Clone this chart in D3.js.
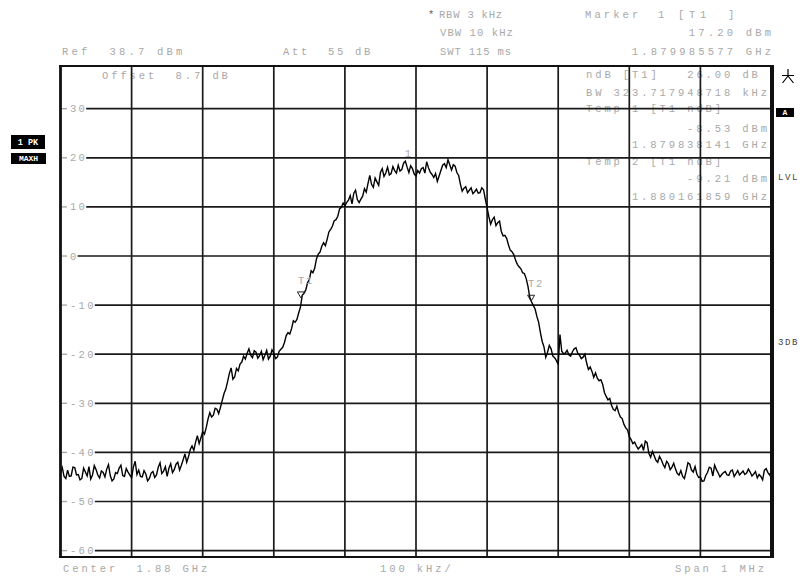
<!DOCTYPE html>
<html><head><meta charset="utf-8">
<script src="https://cdn.jsdelivr.net/npm/d3@7"></script>
<style>
body{margin:0;background:#fff}
svg{display:block}
text{font-family:"Liberation Mono","DejaVu Sans Mono",monospace;}
</style>
</head><body>
<svg id="c" width="802" height="576"></svg>
<script>
// ---- data ----
const spanKHz = 1000;
const sweepKHz = d3.range(-500, 500.1, 2.5);      // sweep points (offset from 1.88 GHz, kHz)
const levelDbm = [
 -44.2,-43.1,-44.9,-45.3,-43.6,-44.9,-44.8,-43.0,-43.1,-44.6,-44.5,-45.6,-45.3,-43.2,-44.0,-44.8,-42.9,-45.4,-44.6,-42.7,
 -43.5,-44.6,-45.2,-43.8,-44.1,-45.0,-43.4,-42.5,-44.7,-45.8,-45.4,-44.1,-44.3,-43.2,-42.6,-44.7,-44.9,-43.3,-44.0,-44.6,
 -45.1,-43.0,-41.8,-44.5,-43.6,-44.9,-45.0,-43.7,-44.4,-45.8,-45.3,-44.2,-43.9,-45.1,-44.6,-43.0,-42.1,-44.3,-43.8,-42.9,
 -44.9,-43.2,-42.3,-44.1,-43.5,-42.4,-42.0,-43.6,-42.6,-41.5,-40.3,-42.0,-40.9,-39.4,-38.7,-39.6,-37.9,-36.6,-38.2,-37.0,
 -35.8,-36.3,-34.9,-33.2,-31.9,-32.8,-32.4,-31.0,-31.2,-32.1,-30.8,-29.4,-28.0,-27.1,-25.6,-23.9,-22.8,-25.1,-24.6,-22.9,
 -23.4,-22.0,-21.6,-20.4,-21.0,-19.8,-18.9,-20.2,-20.7,-19.3,-19.6,-20.8,-20.3,-19.4,-21.1,-20.2,-19.2,-21.0,-20.4,-19.1,
 -19.8,-20.9,-20.6,-19.4,-19.0,-18.6,-17.6,-16.2,-15.6,-15.9,-14.8,-13.2,-13.5,-12.9,-11.6,-10.4,-8.0,-7.6,-6.9,-5.4,
 -4.8,-3.0,-3.4,-2.5,-0.6,0.4,0.8,2.0,2.7,2.1,3.4,4.9,5.4,6.1,7.2,7.4,8.1,9.6,9.9,10.8,
 10.2,10.9,11.4,12.3,10.6,12.8,13.4,11.5,10.9,11.6,12.2,13.7,13.0,14.8,16.4,14.6,14.0,15.9,15.1,14.4,
 17.0,17.8,16.2,16.9,18.1,16.5,16.8,18.2,17.4,16.9,18.5,17.3,17.6,18.9,19.3,18.1,17.0,18.4,17.8,16.7,
 16.3,17.4,16.9,17.8,18.0,16.9,19.2,18.0,17.1,16.6,16.0,16.8,15.2,16.3,17.4,18.5,18.8,18.0,19.6,18.6,
 17.5,18.6,18.3,17.0,16.4,14.6,13.2,13.8,14.1,12.9,13.4,13.9,12.7,13.1,13.6,12.8,12.9,13.9,13.5,11.6,
 9.8,8.0,6.5,7.4,7.9,6.2,6.8,7.1,5.0,4.1,4.2,3.6,2.3,1.2,0.9,0.3,-0.8,-1.7,-2.2,-2.6,
 -3.4,-3.6,-4.6,-6.2,-8.4,-9.3,-10.1,-10.8,-12.3,-13.5,-15.6,-17.4,-18.5,-20.6,-19.6,-18.2,-18.9,-20.4,-20.7,-21.3,
 -22.1,-16.0,-19.4,-19.9,-19.8,-19.2,-20.1,-20.4,-19.5,-18.9,-18.7,-19.8,-20.2,-20.9,-20.6,-20.0,-21.8,-23.1,-22.6,-23.5,
 -24.7,-23.8,-24.9,-25.4,-25.2,-26.1,-27.8,-28.6,-29.3,-29.0,-30.4,-31.2,-31.5,-30.6,-31.9,-32.8,-33.1,-34.3,-35.0,-35.4,
 -36.8,-37.4,-38.2,-37.9,-38.7,-39.3,-38.9,-38.4,-39.6,-37.7,-38.0,-40.2,-41.0,-39.8,-40.7,-41.6,-42.0,-40.8,-41.5,-42.4,
 -43.1,-41.8,-42.3,-43.5,-43.0,-42.2,-43.4,-44.3,-44.6,-43.7,-44.9,-45.3,-43.8,-42.1,-42.4,-43.6,-44.0,-42.9,-44.4,-45.1,
 -45.0,-45.9,-45.8,-44.7,-44.1,-43.0,-43.2,-44.8,-42.6,-43.5,-44.2,-45.0,-44.5,-44.1,-43.9,-44.6,-44.7,-43.8,-43.6,-44.9,
 -44.3,-43.7,-44.6,-44.2,-43.8,-44.5,-44.2,-43.4,-44.0,-44.8,-44.4,-43.9,-45.2,-44.5,-44.9,-45.6,-43.6,-43.3,-44.1,-44.6,-43.8
];
const refLevel = 38.7;
const rangeDb = 100;
const yTickValues = [30,20,10,0,-10,-20,-30,-40,-50,-60];
const xGridKHz = [-400,-300,-200,-100,0,100,200,300,400];
const markerNames = ["1","T1","T2"];
const markerKHz = [-14.423, -161.859, 161.859];
const markerDbm = [17.20, -8.53, -9.21];

// ---- scales ----
const svg = d3.select("#c");
const x = d3.scaleLinear().domain([-spanKHz/2, spanKHz/2]).range([60.5, 771.5]);
const y = d3.scaleLinear().domain([refLevel - rangeDb, refLevel]).range([557, 66]);

const GRAY = "#a8a8a8";
const FS = 10.5, ADV = FS*0.6;
function t(str, px, py, pitch=9.2, anchor="start", fill=GRAY, fs=FS) {
  const ls = pitch - fs*0.6;
  return svg.append("text").attr("x", anchor==="end" ? px + ls : px).attr("y", py)
    .attr("text-anchor", anchor).attr("font-size", fs).attr("letter-spacing", ls)
    .attr("fill", fill).style("white-space","pre").text(str);
}

// ---- header texts ----
t("*", 428, 18, 9, "start", "#666");
t("RBW 3 kHz", 439, 18, 7.1);
t("VBW 10 kHz", 440, 36, 7.4);
t("SWT 115 ms", 440, 54.5, 7.2);
t("Marker", 585, 18, 9.4);
t("1", 658, 18);
t("[T1", 678, 18, 11);
t("]", 728, 18);
t("17.20 dBm", 771, 36, 9.5, "end");
t("1.879985577 GHz", 771, 54.5, 9.5, "end");
t("Ref  38.7 dBm", 62, 54.5, 9.5);
t("Att  55 dB", 283, 54.5, 9.0);

// inside plot texts (drawn beneath grid)
t("Offset  8.7 dB", 102, 79);
t("ndB [T1]   26.00 dB", 586, 78);
t("BW 323.717948718 kHz", 586, 96);
t("Temp 1 [T1 ndB]", 586, 112);
t("-8.53 dBm", 767, 132, 9.2, "end");
t("1.879838141 GHz", 767, 148, 9.2, "end");
t("Temp 2 [T1 ndB]", 586, 165);
t("-9.21 dBm", 767, 182, 9.2, "end");
t("1.880161859 GHz", 767, 200, 9.2, "end");

// bottom
t("Center  1.88 GHz", 63, 572);
t("100 kHz/", 380, 572);
t("Span 1 MHz", 675, 572);

// ---- grid ----
const grid = svg.append("g").attr("stroke", "#1a1a1a").attr("stroke-width", 1.7);
grid.selectAll("line.v").data(xGridKHz).join("line")
  .attr("x1", d => x(d)).attr("x2", d => x(d)).attr("y1", y(refLevel)).attr("y2", y(refLevel - rangeDb));

const yl = svg.append("g");
yTickValues.forEach(v => {
  const lab = yl.append("text").attr("x", 70).attr("y", y(v) + 3.5).attr("font-size", FS)
    .attr("letter-spacing", 8.6 - ADV).attr("fill", GRAY).text(v);
  const w = lab.node().getComputedTextLength();
  yl.append("line").attr("x1", 62).attr("x2", 67).attr("y1", y(v)).attr("y2", y(v))
    .attr("stroke", GRAY).attr("stroke-width", 1.4);
  grid.append("line").attr("x1", 70 + w - 1).attr("x2", x(500)).attr("y1", y(v)).attr("y2", y(v));
});

// ---- trace ----
const line = d3.line().x((d,i) => x(sweepKHz[i])).y(d => y(d));
svg.append("path").datum(levelDbm).attr("d", line)
  .attr("fill", "none").attr("stroke", "#000").attr("stroke-width", 1.4).attr("stroke-linejoin", "miter");

// ---- frame ----
const fr = svg.append("g").attr("stroke", "#111");
fr.append("line").attr("x1", 60.5).attr("x2", 60.5).attr("y1", 65).attr("y2", 558).attr("stroke-width", 2.8);
fr.append("line").attr("x1", 772).attr("x2", 772).attr("y1", 65).attr("y2", 558).attr("stroke-width", 4);
fr.append("line").attr("x1", 59).attr("x2", 774).attr("y1", 66).attr("y2", 66).attr("stroke-width", 2);
fr.append("line").attr("x1", 59).attr("x2", 774).attr("y1", 557).attr("y2", 557).attr("stroke-width", 1.8);

// ---- markers ----
markerNames.forEach((n, i) => {
  const mx = x(markerKHz[i]), my = y(markerDbm[i]);
  if (n === "1") {
    t("1", mx - 1, my - 15, 9.2);
  } else {
    svg.append("path").attr("d", `M${mx-3.5},${my-6}L${mx+3.5},${my-6}L${mx},${my}Z`)
      .attr("fill", "none").attr("stroke", "#222").attr("stroke-width", 1);
    t(n, mx - 3, my - 14, 8);
  }
});

// ---- side annotations ----
svg.append("path").attr("d", "M782,75.5H794M788,69V76M788,76L782.5,83M788,76L793.5,83")
  .attr("stroke", "#000").attr("stroke-width", 1.2).attr("fill", "none");
function box(label, bx, by, bw, bh, fs) {
  svg.append("rect").attr("x", bx).attr("y", by).attr("width", bw).attr("height", bh).attr("fill", "#000");
  svg.append("text").attr("x", bx + bw/2).attr("y", by + bh/2 + fs*0.36).attr("text-anchor", "middle")
    .attr("font-size", fs).attr("font-weight", "bold").attr("fill", "#fff")
    .attr("font-family", "'Liberation Serif',serif").text(label);
}
box("1 PK", 11, 135, 34, 14, 8.5);
box("MAXH", 11, 153, 35, 11, 8);
box("A", 776, 108, 18, 9, 8);
t("LVL", 778, 180, 7, "start", "#444", 9);
t("3DB", 778, 345, 7, "start", "#444", 9);
</script>
</body></html>
